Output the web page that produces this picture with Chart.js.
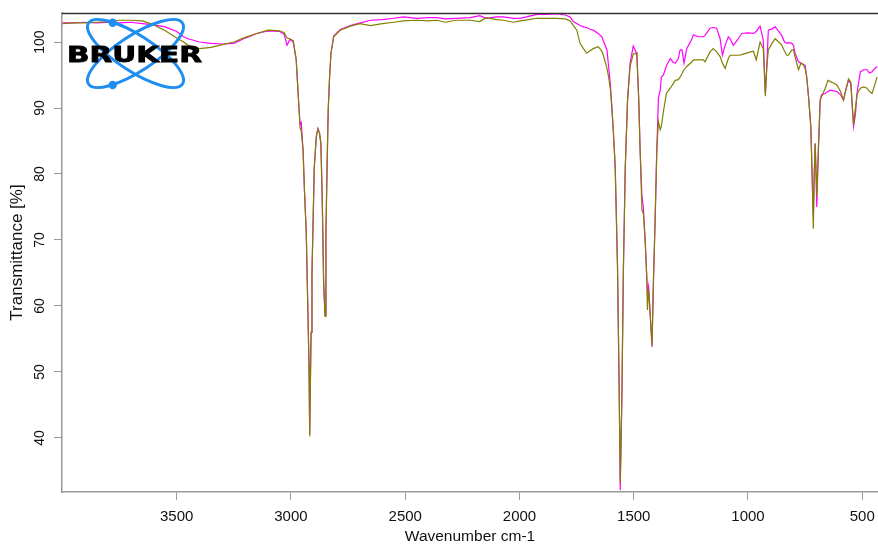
<!DOCTYPE html>
<html>
<head>
<meta charset="utf-8">
<script src="https://cdn.jsdelivr.net/npm/chart.js@4.4.1/dist/chart.umd.min.js"></script>
<style>
  html, body { margin: 0; padding: 0; background: #fff; }
  #wrap { position: relative; width: 878px; height: 548px; }
  #logo { position: absolute; left: 0; top: 0; pointer-events: none; }
</style>
</head>
<body>
<div id="wrap">
  <canvas id="spectrum" width="878" height="548"></canvas>
  <svg id="logo" width="220" height="100" viewBox="0 0 220 100">
    <g fill="none" stroke="#1f8ef1" stroke-width="3">
      <ellipse cx="135.5" cy="53.5" rx="56" ry="18" transform="rotate(33 135.5 53.5)"/>
      <ellipse cx="135.5" cy="53.5" rx="56" ry="18" transform="rotate(-33 135.5 53.5)"/>
    </g>
    <circle cx="112.7" cy="22.7" r="4.2" fill="#1f8ef1"/>
    <circle cx="112.7" cy="85" r="4.2" fill="#1f8ef1"/>
    <text x="67" y="62" font-family="DejaVu Sans" font-weight="bold" font-size="21"
          textLength="135" lengthAdjust="spacingAndGlyphs" fill="#000" stroke="#000" stroke-width="0.8">BRUKER</text>
  </svg>
</div>
<script>
// wavenumber grid (cm-1)
const wavenumbers = [
  4000, 3950, 3900, 3850, 3800, 3750, 3700, 3650, 3600, 3550,
  3500, 3470, 3450, 3400, 3350, 3300, 3250, 3200, 3150, 3100,
  3050, 3030, 3017, 3005, 2990, 2977, 2967, 2960, 2955, 2947,
  2941, 2933, 2927, 2921, 2918, 2912, 2908, 2904, 2898, 2889,
  2882, 2875, 2869, 2863, 2857, 2851, 2847, 2842, 2837, 2831,
  2825, 2813, 2784, 2740, 2697, 2652, 2600, 2550, 2507, 2450,
  2400, 2361, 2325, 2280, 2215, 2174, 2145, 2100, 2070, 2026,
  1997, 1960, 1924, 1880, 1836, 1800, 1778, 1764, 1749, 1735,
  1720, 1706, 1690, 1677, 1655, 1639, 1633, 1617, 1610, 1602,
  1596, 1589, 1581, 1571, 1564, 1559, 1552, 1545, 1537, 1527,
  1516, 1502, 1490, 1486, 1478, 1472, 1464, 1458, 1450, 1443,
  1440, 1435, 1430, 1420, 1414, 1406, 1399, 1392, 1384, 1379,
  1370, 1357, 1340, 1327, 1318, 1305, 1297, 1289, 1280, 1268,
  1245, 1239, 1217, 1195, 1188, 1166, 1152, 1137, 1122, 1112,
  1100, 1086, 1078, 1064, 1042, 1027, 1000, 976, 964, 947,
  933, 924, 918, 911, 895, 881, 859, 852, 840, 830,
  823, 808, 801, 794, 779, 768, 758, 750, 743, 735,
  725, 718, 714, 710, 706, 702, 699, 692, 684, 678,
  662, 650, 640, 625, 611, 595, 582, 570, 560, 550,
  538, 530, 522, 508, 494, 479, 468, 457, 445, 435
];

// magenta spectrum
const transmittanceA = [
  102.9, 102.9, 103.0, 102.9, 103.0, 102.9, 103.0, 102.8, 102.6, 102.3,
  101.6, 100.8, 100.5, 100.0, 99.8, 99.7, 99.8, 100.6, 101.3, 101.7,
  101.6, 101.2, 99.5, 100.4, 100.0, 97.3, 91.2, 87.5, 87.8, 83.6,
  77.6, 71.0, 61.0, 51.0, 40.5, 56.0, 65.0, 71.5, 81.0, 85.8,
  86.9, 86.2, 84.6, 76.0, 63.5, 58.6, 71.0, 81.0, 89.7, 94.7,
  98.3, 100.9, 101.9, 102.5, 102.9, 103.3, 103.4, 103.6, 103.8, 103.6,
  103.7, 103.7, 103.5, 103.6, 103.7, 104.0, 103.6, 103.8, 103.8, 103.6,
  103.6, 103.9, 104.2, 104.2, 104.3, 104.1, 103.8, 103.1, 102.8, 102.5,
  102.3, 102.2, 101.9, 101.8, 101.3, 100.8, 100.2, 98.8, 96.3, 93.5,
  90.0, 86.5, 81.0, 66.0, 48.3, 32.1, 45.8, 66.0, 81.0, 91.2,
  96.8, 99.4, 98.5, 97.8, 91.2, 83.6, 76.6, 75.0, 70.0, 64.5,
  62.0, 63.0, 60.0, 53.8, 63.4, 73.5, 83.6, 91.5, 92.7, 94.7,
  95.0, 96.4, 97.5, 96.9, 96.8, 97.5, 98.8, 98.8, 96.8, 99.0,
  100.5, 101.1, 100.8, 100.8, 101.0, 102.1, 102.2, 102.1, 100.5, 98.0,
  99.5, 100.8, 100.5, 99.5, 100.5, 101.3, 101.4, 101.3, 101.6, 102.4,
  100.3, 92.2, 96.0, 101.8, 102.0, 102.3, 101.3, 101.0, 100.0, 99.8,
  99.9, 99.8, 99.5, 98.3, 97.0, 96.8, 96.6, 96.5, 94.7, 91.7,
  87.2, 78.1, 73.5, 80.0, 84.6, 80.0, 75.0, 83.6, 91.2, 92.0,
  92.2, 92.5, 92.7, 92.6, 92.5, 92.0, 91.2, 93.0, 94.2, 93.7,
  87.2, 89.0, 92.5, 95.5, 95.8, 95.8, 95.3, 95.5, 96.0, 96.3
];

// olive spectrum
const transmittanceB = [
  102.8, 102.9, 102.9, 103.0, 103.1, 103.3, 103.3, 103.2, 102.6, 101.7,
  100.6, 100.0, 99.5, 99.0, 99.2, 99.6, 100.0, 100.7, 101.3, 101.8,
  101.7, 101.4, 100.6, 100.5, 100.2, 97.3, 91.2, 87.0, 86.5, 83.6,
  77.6, 71.0, 61.0, 51.0, 40.2, 56.0, 65.0, 71.5, 81.0, 85.6,
  86.8, 86.2, 84.6, 76.0, 63.5, 58.4, 71.0, 81.0, 89.7, 94.7,
  98.3, 100.8, 101.8, 102.4, 102.8, 102.5, 102.8, 103.0, 103.2, 103.3,
  103.2, 103.3, 103.0, 103.3, 103.3, 103.1, 103.7, 103.4, 103.3, 103.0,
  103.2, 103.4, 103.6, 103.6, 103.6, 103.5, 103.2, 102.5, 101.8, 99.8,
  99.0, 98.3, 98.7, 99.0, 99.3, 98.6, 98.0, 96.0, 94.7, 92.8,
  90.5, 86.2, 81.0, 66.0, 48.3, 33.2, 45.8, 66.0, 81.0, 91.2,
  96.3, 98.2, 98.3, 97.8, 91.2, 83.6, 74.5, 74.0, 70.0, 64.4,
  59.4, 62.5, 60.0, 54.0, 63.4, 73.5, 83.6, 88.0, 86.7, 87.2,
  89.5, 92.2, 93.0, 93.7, 94.2, 94.3, 94.7, 95.2, 95.8, 96.3,
  97.0, 97.3, 97.3, 97.3, 97.0, 98.5, 99.0, 98.5, 97.8, 96.8,
  96.0, 97.5, 98.0, 98.0, 98.0, 98.1, 98.4, 98.6, 97.3, 100.0,
  99.0, 91.8, 96.0, 98.8, 99.8, 100.5, 99.8, 99.5, 98.6, 98.0,
  98.0, 98.8, 98.8, 97.8, 95.8, 96.8, 96.6, 96.0, 94.7, 91.7,
  87.2, 78.1, 71.7, 80.0, 84.6, 80.0, 76.6, 83.6, 91.2, 91.7,
  93.0, 94.2, 94.0, 93.8, 93.5, 92.5, 91.2, 93.0, 94.4, 93.9,
  87.4, 90.0, 92.2, 93.0, 93.2, 93.0, 92.5, 92.2, 93.5, 94.7
];

const xTicks = [3500, 3000, 2500, 2000, 1500, 1000, 500];
const yTicks = [40, 50, 60, 70, 80, 90, 100];

Chart.defaults.font.family = '"Liberation Sans", Arial, sans-serif';
Chart.defaults.font.size = 14;
Chart.defaults.color = '#111';

function toPoints(values) {
  return wavenumbers.map((w, i) => ({ x: w, y: values[i] }));
}

// dunkle Linie oben am Plotrand
const topBorder = {
  id: 'topBorder',
  afterDraw(chart) {
    const { ctx, chartArea } = chart;
    ctx.save();
    ctx.strokeStyle = '#333';
    ctx.lineWidth = 1.5;
    ctx.beginPath();
    ctx.moveTo(chartArea.left, chartArea.top + 0.5);
    ctx.lineTo(chartArea.right, chartArea.top + 0.5);
    ctx.stroke();
    ctx.restore();
  }
};

new Chart(document.getElementById('spectrum'), {
  type: 'line',
  data: {
    datasets: [
      {
        label: 'A',
        data: toPoints(transmittanceA),
        borderColor: '#ff00ff',
        borderWidth: 1.2,
        pointRadius: 0,
        tension: 0,
        order: 1
      },
      {
        label: 'B',
        data: toPoints(transmittanceB),
        borderColor: '#808000',
        borderWidth: 1.2,
        pointRadius: 0,
        tension: 0,
        order: 0
      }
    ]
  },
  options: {
    responsive: false,
    animation: false,
    layout: { padding: { top: 13, right: 0, left: 0, bottom: 0 } },
    plugins: { legend: { display: false }, tooltip: { enabled: false } },
    scales: {
      x: {
        type: 'linear',
        reverse: true,
        min: 431,
        max: 4002,
        afterBuildTicks: scale => { scale.ticks = xTicks.map(v => ({ value: v })); },
        afterFit: scale => { scale.height = 56; scale.paddingLeft = 0; scale.paddingRight = 0; },
        grid: { drawOnChartArea: false, drawTicks: true, tickLength: 8, color: '#999' },
        border: { display: true, color: '#999', width: 1.5 },
        ticks: { padding: 8, font: { size: 15 }, callback: v => String(v) },
        title: { display: true, text: 'Wavenumber cm-1', font: { size: 15.5 }, padding: { top: 0, bottom: 2 } }
      },
      y: {
        min: 31.8,
        max: 104.4,
        afterBuildTicks: scale => { scale.ticks = yTicks.map(v => ({ value: v })); },
        afterFit: scale => { scale.width = 62; },
        grid: { drawOnChartArea: false, drawTicks: true, tickLength: 8, color: '#999' },
        border: { display: true, color: '#999', width: 1.5 },
        ticks: { minRotation: 90, maxRotation: 90, crossAlign: 'center', padding: 2, font: { size: 14 }, callback: v => String(v) },
        title: { display: true, text: 'Transmittance [%]', font: { size: 17 }, padding: { top: 7, bottom: 0 } }
      }
    }
  },
  plugins: [topBorder]
});
</script>
</body>
</html>
